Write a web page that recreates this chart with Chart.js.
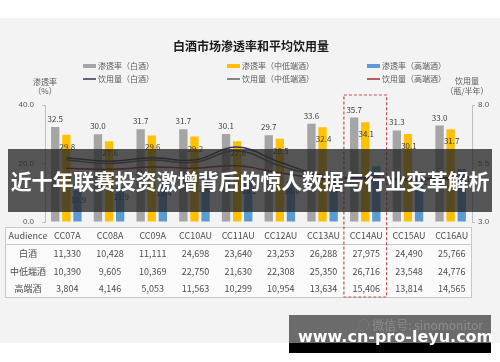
<!DOCTYPE html>
<html>
<head>
<meta charset="utf-8">
<script src="https://cdn.jsdelivr.net/npm/chart.js@4/dist/chart.umd.min.js"></script>
<style>
  html, body { margin: 0; padding: 0; background: #fff; }
  #wrap { position: relative; width: 500px; height: 362px; overflow: hidden; }
  #wrap canvas { position: absolute; left: 0; top: 0; }
  .banner {
    position: absolute; left: 8px; top: 149px; width: 484px; height: 63px;
    background: rgba(40, 40, 40, 0.78); color: #fff;
    font: bold 21px "Noto Sans CJK SC", sans-serif; line-height: 63px;
    text-align: center; white-space: nowrap; letter-spacing: -0.2px;
  }
  .mark {
    position: absolute; left: 289px; top: 315px; width: 202px; height: 38px;
    background: linear-gradient(#6b6b6b 0, #6b6b6b 28px, #000 28px);
  }
  .mark .wx {
    position: absolute; right: 8px; top: 1px; color: #8d8d8d;
    font: 12px "Noto Sans CJK SC", sans-serif; white-space: nowrap;
  }
  .mark .url {
    position: absolute; left: 9px; top: 12px; color: #fff;
    font: bold 16px "DejaVu Sans", sans-serif; white-space: nowrap;
  }
</style>
</head>
<body>
<div id="wrap">
  <canvas id="c" width="500" height="362"></canvas>
  <div class="banner">近十年联赛投资激增背后的惊人数据与行业变革解析</div>
  <div class="mark"><div class="wx">◌ 微信号: sinomonitor</div><div class="url">www.cn-pro-leyu.com</div></div>
</div>
<script>
const categories = ["CC07A", "CC08A", "CC09A", "CC10AU", "CC11AU", "CC12AU", "CC13AU", "CC14AU", "CC15AU", "CC16AU"];

// 渗透率 (%)
const rateBaijiu = [32.5, 30.0, 31.7, 31.7, 30.1, 29.7, 33.6, 35.7, 31.3, 33.0];
const rateMidLow = [29.8, 27.6, 29.6, 29.2, 27.6, 28.5, 32.4, 34.1, 30.1, 31.7];
const rateHigh = [10.9, 11.9, 13.4, 14.8, 14.2, 14.0, 16.8, 19.1, 17.1, 18.1];

// 饮用量 (瓶/半年)
const volBaijiu = [5.75, 5.6, 5.75, 5.65, 6.2, 5.55, 5.0, 4.88, 4.85, 4.9];
const volMidLow = [5.65, 5.5, 5.65, 5.55, 6.05, 5.4, 4.95, 4.82, 4.8, 4.85];
const volHigh = [5.3, 5.25, 5.35, 5.3, 5.4, 5.1, 4.85, 4.9, 4.8, 4.85];

// 样本量
const tableRows = ["白酒", "中低端酒", "高端酒"];
const sampleBaijiu = [11330, 10428, 11111, 24698, 23640, 23253, 26288, 27975, 24490, 25766];
const sampleMidLow = [10390, 9605, 10369, 22750, 21630, 22308, 25350, 26716, 23548, 24776];
const sampleHigh = [3804, 4146, 5053, 11563, 10299, 10954, 13634, 15406, 13814, 14565];

const leftTicks = [0, 20, 40];
const rightTicks = [3, 5.5, 8];
const highlightIndex = 7;

const CJK = '"Noto Sans CJK SC", "Noto Sans", sans-serif';

const backgroundPlugin = {
  id: "backgroundPlugin",
  beforeDraw(c) {
    const { ctx } = c;
    ctx.save();
    ctx.fillStyle = "#ffffff";
    ctx.fillRect(0, 0, c.width, c.height);
    ctx.fillStyle = "#f3f3f3";
    ctx.fillRect(0, 18, c.width, 325);
    ctx.restore();
  }
};

const labelPlugin = {
  id: "labelPlugin",
  afterDatasetsDraw(c) {
    const { ctx } = c;
    ctx.save();
    ctx.font = "8px " + CJK;
    ctx.fillStyle = "#404040";
    ctx.textAlign = "center";
    ctx.textBaseline = "middle";
    [0, 1, 2].forEach((di) => {
      const meta = c.getDatasetMeta(di);
      meta.data.forEach((bar, i) => {
        const v = c.data.datasets[di].data[i];
        const y = di === 0 ? bar.y - 8 : bar.y + (di === 1 ? 12 : 10);
        ctx.fillText(v.toFixed(1), bar.x + (di === 0 ? 0 : 1), y);
      });
    });
    ctx.restore();
  }
};

const decorPlugin = {
  id: "decorPlugin",
  afterDraw(c) {
    const { ctx, scales } = c;
    const x = scales.x;
    ctx.save();

    // title
    ctx.fillStyle = "#1a1a1a";
    ctx.font = "bold 12px " + CJK;
    ctx.textAlign = "center";
    ctx.textBaseline = "middle";
    ctx.fillText("白酒市场渗透率和平均饮用量", 251, 46);

    // legend
    const cols = [83, 227, 367];
    const rows = [66, 79];
    ctx.font = "8px " + CJK;
    ctx.textAlign = "left";
    c.data.datasets.forEach((ds, i) => {
      const cx = cols[i % 3];
      const cy = rows[Math.floor(i / 3)];
      if (ds.type === "line") {
        ctx.strokeStyle = ds.borderColor;
        ctx.lineWidth = 1.5;
        ctx.beginPath();
        ctx.moveTo(cx, cy);
        ctx.lineTo(cx + 13, cy);
        ctx.stroke();
      } else {
        ctx.fillStyle = ds.backgroundColor;
        ctx.fillRect(cx, cy - 2, 13, 4);
      }
      ctx.fillStyle = "#595959";
      ctx.fillText(ds.label, cx + 15, cy);
    });

    // axis titles
    ctx.textAlign = "center";
    ctx.fillText("渗透率", 45, 82);
    ctx.fillText("（%）", 45, 91);
    ctx.fillText("饮用量", 467, 81);
    ctx.fillText("（瓶/半年）", 467, 91);

    // data table
    const left = 5, right = 471, top = 227, bottom = 297;
    ctx.fillStyle = "#fafafa";
    ctx.fillRect(left, top, right - left, bottom - top);
    ctx.strokeStyle = "#c8c8c8";
    ctx.lineWidth = 1;
    ctx.strokeRect(left + 0.5, top + 0.5, right - left, bottom - top);
    ctx.beginPath();
    ctx.moveTo(left, 244.5);
    ctx.lineTo(right, 244.5);
    ctx.stroke();

    ctx.fillStyle = "#4d4d4d";
    ctx.font = "9px " + CJK;
    const rowY = [236, 254, 272, 289];
    ctx.fillText("Audience", 28, rowY[0]);
    const samples = [sampleBaijiu, sampleMidLow, sampleHigh];
    categories.forEach((cat, i) => {
      const px = x.getPixelForValue(i) + 1;
      ctx.fillText(cat, px, rowY[0]);
      samples.forEach((s, r) => {
        ctx.fillText(s[i].toLocaleString("en-US"), px, rowY[r + 1]);
      });
    });
    tableRows.forEach((name, r) => {
      ctx.fillText(name, 28, rowY[r + 1]);
    });

    // highlight box
    const hx = x.getPixelForValue(highlightIndex);
    const half = (x.getPixelForValue(1) - x.getPixelForValue(0)) / 2;
    ctx.strokeStyle = "#c0504d";
    ctx.lineWidth = 1.2;
    ctx.setLineDash([3, 2]);
    ctx.strokeRect(hx - half, 95, half * 2, 202);
    ctx.setLineDash([]);

    ctx.restore();
  }
};

new Chart(document.getElementById("c"), {
  data: {
    labels: categories,
    datasets: [
      { type: "bar", label: "渗透率（白酒）", data: rateBaijiu, backgroundColor: "#a5a5a5", yAxisID: "y", order: 2 },
      { type: "bar", label: "渗透率（中低端酒）", data: rateMidLow, backgroundColor: "#ffc000", yAxisID: "y", order: 2 },
      { type: "bar", label: "渗透率（高端酒）", data: rateHigh, backgroundColor: "#5b9bd5", yAxisID: "y", order: 2 },
      { type: "line", label: "饮用量（白酒）", data: volBaijiu, borderColor: "#3d2f5b", borderWidth: 1.5, pointRadius: 0, tension: 0.4, yAxisID: "y1", order: 1 },
      { type: "line", label: "饮用量（中低端酒）", data: volMidLow, borderColor: "#606060", borderWidth: 1.5, pointRadius: 0, tension: 0.4, yAxisID: "y1", order: 1 },
      { type: "line", label: "饮用量（高端酒）", data: volHigh, borderColor: "#a52a2a", borderWidth: 1.5, pointRadius: 0, tension: 0.4, yAxisID: "y1", order: 1 }
    ]
  },
  options: {
    responsive: false,
    animation: false,
    datasets: { bar: { barPercentage: 0.75, categoryPercentage: 0.78 } },
    layout: { padding: { left: 10, right: 0, top: 105, bottom: 140 } },
    plugins: { legend: { display: false }, tooltip: { enabled: false } },
    scales: {
      x: { display: false },
      y: {
        position: "left",
        min: 0,
        max: 40,
        afterBuildTicks(s) { s.ticks = leftTicks.map((v) => ({ value: v })); },
        afterFit(s) { s.width = 35; },
        ticks: { color: "#595959", font: { size: 8 }, padding: 8, callback: (v) => Number(v).toFixed(1) },
        grid: { drawOnChartArea: false, tickLength: 3, color: "#bfbfbf" },
        border: { color: "#bfbfbf" }
      },
      y1: {
        position: "right",
        min: 3,
        max: 8,
        afterBuildTicks(s) { s.ticks = rightTicks.map((v) => ({ value: v })); },
        afterFit(s) { s.width = 28; },
        ticks: { color: "#595959", font: { size: 8 }, padding: 3, callback: (v) => Number(v).toFixed(1) },
        grid: { drawOnChartArea: false, tickLength: 3, color: "#bfbfbf" },
        border: { color: "#bfbfbf" }
      }
    }
  },
  plugins: [backgroundPlugin, labelPlugin, decorPlugin]
});
</script>
</body>
</html>
